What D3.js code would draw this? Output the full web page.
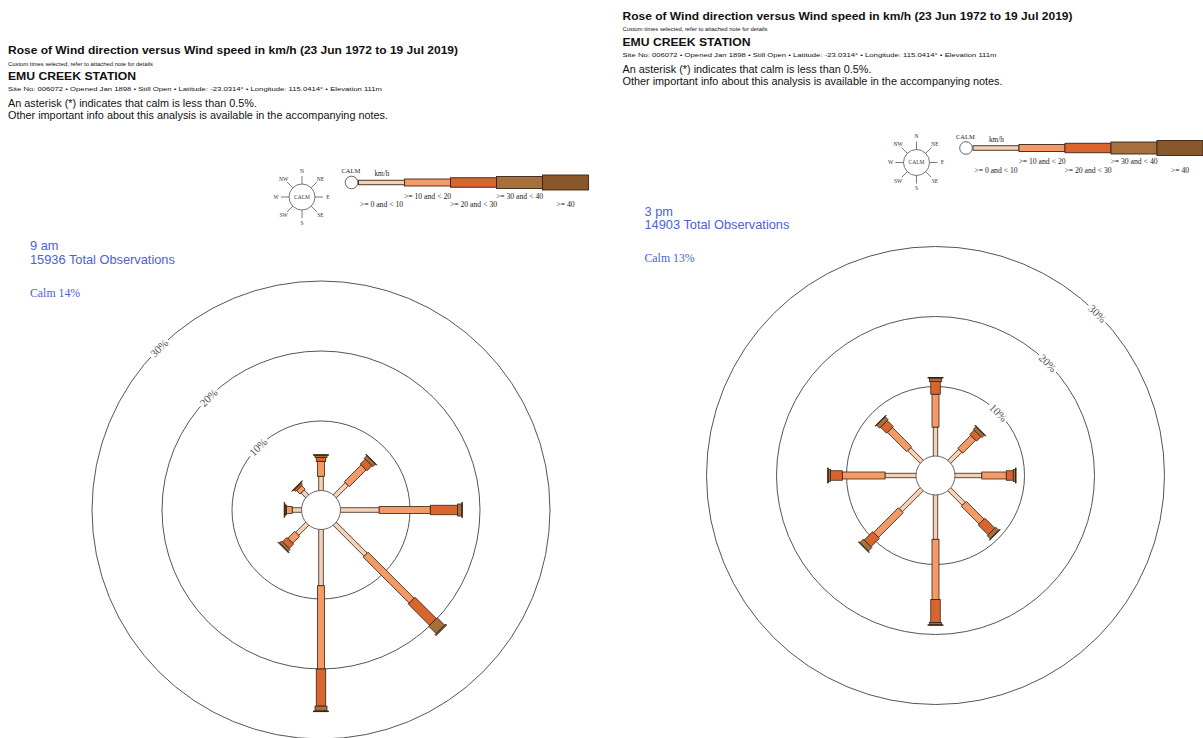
<!DOCTYPE html>
<html>
<head>
<meta charset="utf-8">
<script src="https://cdn.jsdelivr.net/npm/d3@7"></script>
<style>
  html, body { margin: 0; padding: 0; background: #fff; }
  svg { display: block; }
</style>
</head>
<body>
<svg id="chart" width="1203" height="738"></svg>
<script>
// ---------- DATA ----------
const directions = ["N", "NE", "E", "SE", "S", "SW", "W", "NW"];
const speedClasses = [">= 0 and < 10", ">= 10 and < 20", ">= 20 and < 30", ">= 30 and < 40", ">= 40"];
const ringTicks = [10, 20, 30];

// 9 am: percent of observations per direction (N..NW) for each speed class
const am9Speed0to10  = [2.1, 2.5, 5.6, 6.3, 8.1, 2.1, 1.4, 1.0];
const am9Speed10to20 = [2.1, 3.4, 7.3, 9.3, 11.9, 1.4, 0.8, 0.7];
const am9Speed20to30 = [0.6, 1.0, 3.9, 4.3, 5.3, 0.9, 0.2, 0.3];
const am9Speed30to40 = [0.3, 0.5, 0.6, 1.5, 0.7, 0.4, 0.1, 0.1];
const am9Speed40plus = [0.1, 0.1, 0.1, 0.2, 0.1, 0.1, 0.05, 0.05];
const am9Calm = 14;
const am9Total = 15936;

// 3 pm
const pm3Speed0to10  = [4.2, 2.3, 3.9, 3.0, 6.4, 4.3, 4.5, 2.6];
const pm3Speed10to20 = [4.7, 2.6, 3.5, 3.6, 8.6, 5.0, 6.1, 3.9];
const pm3Speed20to30 = [1.8, 0.9, 1.0, 2.0, 3.3, 1.7, 1.7, 1.2];
const pm3Speed30to40 = [0.5, 0.5, 0.3, 0.6, 0.3, 0.7, 0.3, 0.6];
const pm3Speed40plus = [0.1, 0.1, 0.1, 0.1, 0.1, 0.1, 0.1, 0.1];
const pm3Calm = 13;
const pm3Total = 14903;

const titleText = "Rose of Wind direction versus Wind speed in km/h (23 Jun 1972 to 19 Jul 2019)";
const customText = "Custom times selected, refer to attached note for details";
const stationText = "EMU CREEK STATION";
const siteText = "Site No: 006072 \u2022 Opened Jan 1898 \u2022 Still Open  \u2022 Latitude: -23.0314\u00b0 \u2022 Longitude: 115.0414\u00b0 \u2022 Elevation 111m";
const asteriskText = "An asterisk (*) indicates that calm is less than 0.5%.";
const notesText = "Other important info about this analysis is available in the accompanying notes.";

// ---------- STYLE ----------
const classColors = ["#f4d2b8", "#f39a66", "#d8642e", "#a5703e", "#87572a"];
const classWidths = [4.5, 7, 9.5, 12, 15];
const blue = "#4a62d8";
const sans = "'Liberation Sans', Arial, sans-serif";
const serif = "'Liberation Serif', 'Times New Roman', serif";

const svg = d3.select("#chart");

const rScale = d3.scaleLinear().domain([0, 30]).range([19, 229]);
const angleScale = d3.scalePoint().domain(directions).range([0, 315]);

function drawPanel(ox, oy, opts) {
  const g = svg.append("g").attr("transform", `translate(${ox},${oy})`);

  // Header text
  const header = [
    {t: titleText, y: 54, size: 11, weight: "bold", len: 450},
    {t: customText, y: 65.5, size: 5.9, weight: "normal", len: 145},
    {t: stationText, y: 80, size: 11, weight: "bold", len: 128},
    {t: siteText, y: 91, size: 5.9, weight: "normal", len: 374},
    {t: asteriskText, y: 107, size: 10.5, weight: "normal", len: 249},
    {t: notesText, y: 119, size: 10.5, weight: "normal", len: 380}
  ];
  header.forEach(h => {
    g.append("text").attr("x", 8).attr("y", h.y)
      .attr("font-family", sans).attr("font-size", h.size)
      .attr("font-weight", h.weight).attr("fill", "#111")
      .attr("textLength", h.len).attr("lengthAdjust", "spacingAndGlyphs")
      .text(h.t);
  });

  // Legend: compass icon
  const cg = g.append("g").attr("transform", "translate(302,197)");
  cg.append("circle").attr("r", 13).attr("fill", "#fff").attr("stroke", "#555").attr("stroke-width", 0.8);
  directions.forEach(d => {
    const a = angleScale(d) * Math.PI / 180;
    cg.append("line")
      .attr("x1", 13 * Math.sin(a)).attr("y1", -13 * Math.cos(a))
      .attr("x2", 21 * Math.sin(a)).attr("y2", -21 * Math.cos(a))
      .attr("stroke", "#555").attr("stroke-width", 0.8);
    cg.append("text")
      .attr("x", 26 * Math.sin(a)).attr("y", -26 * Math.cos(a))
      .attr("dy", "0.35em").attr("text-anchor", "middle")
      .attr("font-family", serif).attr("font-size", 5.5).attr("fill", "#333")
      .text(d);
  });
  cg.append("text").attr("dy", "0.35em").attr("text-anchor", "middle")
    .attr("font-family", serif).attr("font-size", 5.5).attr("fill", "#333").text("CALM");

  // Legend: calm circle + speed bars
  const lg = g.append("g");
  const segLen = 46, segX0 = 358.5, segY = 182.5;
  speedClasses.forEach((c, i) => {
    lg.append("rect")
      .attr("x", segX0 + i * segLen).attr("y", segY - classWidths[i] / 2)
      .attr("width", segLen).attr("height", classWidths[i])
      .attr("fill", classColors[i]).attr("stroke", "#3a2414").attr("stroke-width", 0.9);
    lg.append("text")
      .attr("x", segX0 + i * segLen + segLen / 2)
      .attr("y", i % 2 === 0 ? 207 : 198.5)
      .attr("text-anchor", "middle")
      .attr("font-family", serif).attr("font-size", 7.7).attr("fill", "#222")
      .text(c);
  });
  lg.append("circle").attr("cx", 351.5).attr("cy", segY).attr("r", 6.3)
    .attr("fill", "#fff").attr("stroke", "#555").attr("stroke-width", 0.9);
  lg.append("text").attr("x", 341.5).attr("y", 173).attr("font-family", serif)
    .attr("font-size", 6.5).attr("fill", "#222").text("CALM");
  lg.append("text").attr("x", 374.5).attr("y", 176).attr("font-family", serif)
    .attr("font-size", 7.2).attr("fill", "#222").text("km/h");

  // Panel labels
  g.append("text").attr("x", 30).attr("y", 250).attr("font-family", sans)
    .attr("font-size", 12.8).attr("fill", blue).text(opts.time);
  g.append("text").attr("x", 30).attr("y", 263.5).attr("font-family", sans)
    .attr("font-size", 12.8).attr("fill", blue).text(opts.total + " Total Observations");
  g.append("text").attr("x", 30).attr("y", 296.5).attr("font-family", serif)
    .attr("font-size", 11.8).attr("fill", blue).text("Calm " + opts.calm + "%");

  // Rose
  const cx = 321, cy = 510;
  const rose = g.append("g").attr("transform", `translate(${cx},${cy})`);

  rose.selectAll("circle.ring").data(ringTicks).join("circle")
    .attr("class", "ring").attr("r", d => rScale(d))
    .attr("fill", "none").attr("stroke", "#555").attr("stroke-width", 1);

  const labelAngle = opts.labelAngle;
  ringTicks.forEach(t => {
    const a = labelAngle * Math.PI / 180;
    const lg2 = rose.append("g")
      .attr("transform", `translate(${rScale(t) * Math.sin(a)},${-rScale(t) * Math.cos(a)}) rotate(${labelAngle})`);
    lg2.append("rect").attr("x", -12).attr("y", -6).attr("width", 24).attr("height", 12).attr("fill", "#fff");
    lg2.append("text").attr("text-anchor", "middle").attr("dy", "0.35em")
      .attr("font-family", serif).attr("font-size", 11).attr("fill", "#555")
      .text(t + "%");
  });

  const classes = opts.classes;
  directions.forEach((d, di) => {
    const bg = rose.append("g").attr("transform", `rotate(${angleScale(d)})`);
    let cum = 0;
    classes.forEach((arr, ci) => {
      const v = arr[di];
      if (v <= 0) return;
      const r0 = rScale(cum), r1 = rScale(cum + v);
      bg.append("rect")
        .attr("x", -classWidths[ci] / 2).attr("y", -r1)
        .attr("width", classWidths[ci]).attr("height", r1 - r0)
        .attr("fill", classColors[ci]).attr("stroke", "#3a2414").attr("stroke-width", 0.8);
      cum += v;
    });
  });

  rose.append("circle").attr("r", rScale(0) + 0.5)
    .attr("fill", "#fff").attr("stroke", "#666").attr("stroke-width", 1);
}

drawPanel(0, 0, {
  time: "9 am", total: am9Total, calm: am9Calm, labelAngle: -45,
  classes: [am9Speed0to10, am9Speed10to20, am9Speed20to30, am9Speed30to40, am9Speed40plus]
});
drawPanel(614.5, -34.5, {
  time: "3 pm", total: pm3Total, calm: pm3Calm, labelAngle: 45,
  classes: [pm3Speed0to10, pm3Speed10to20, pm3Speed20to30, pm3Speed30to40, pm3Speed40plus]
});
</script>
</body>
</html>
